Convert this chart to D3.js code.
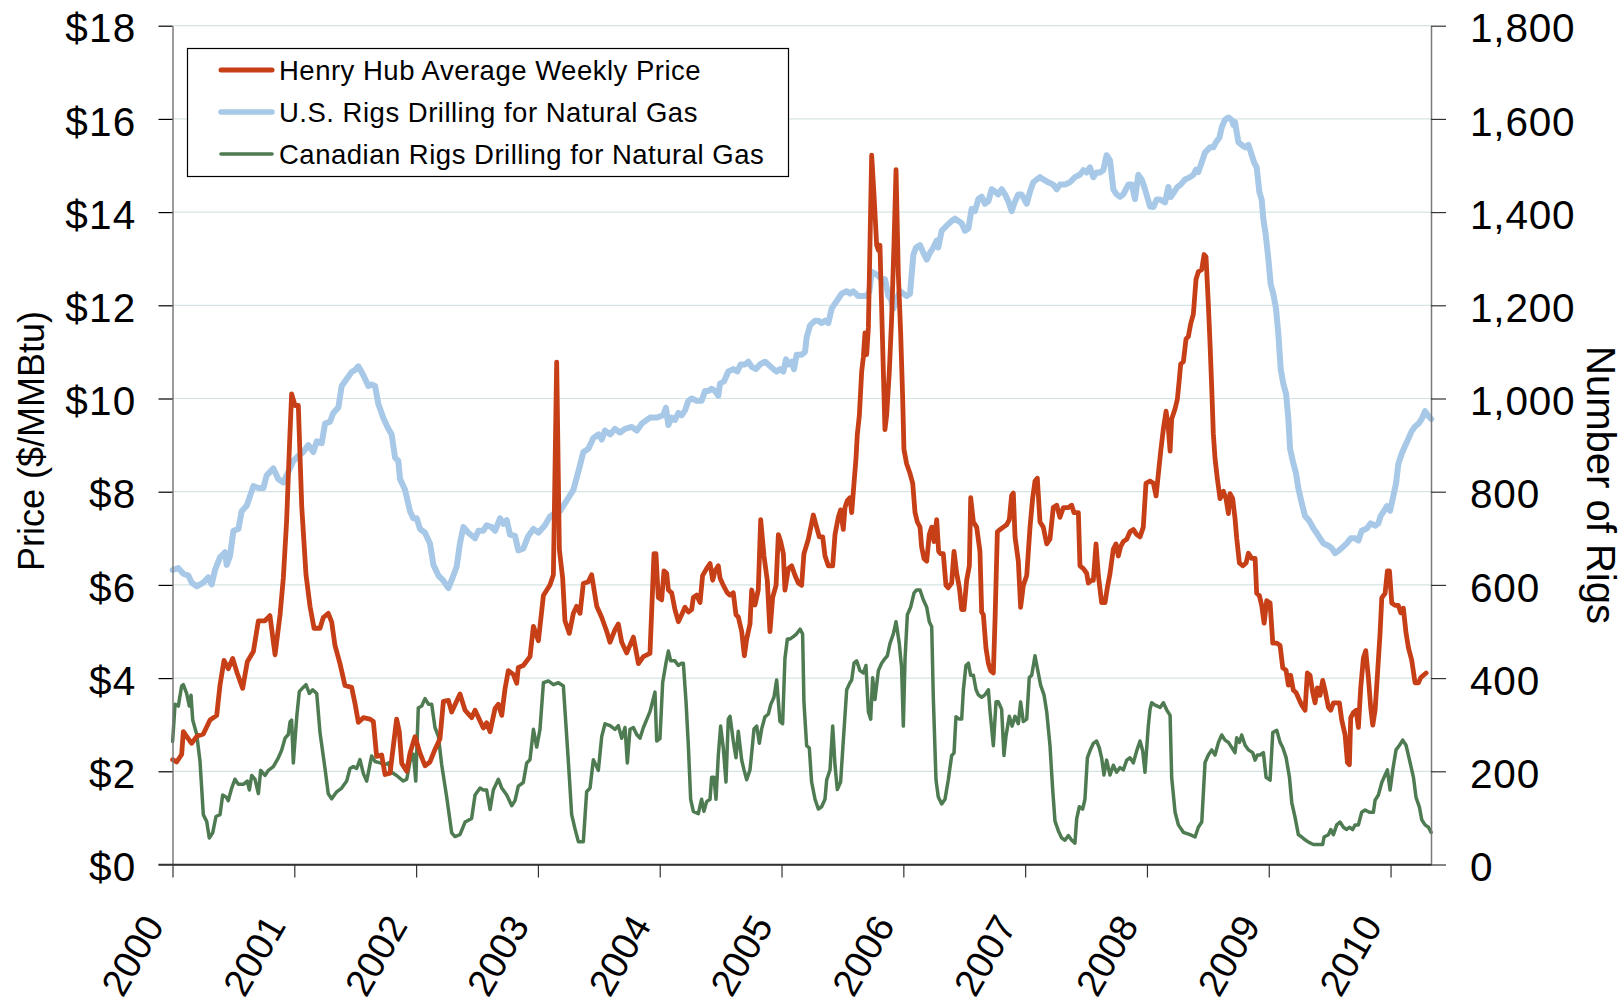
<!DOCTYPE html>
<html><head><meta charset="utf-8">
<script src="https://cdn.jsdelivr.net/npm/d3@7"></script>
<style>
body{margin:0;background:#fff}
svg{display:block}
text{font-family:"Liberation Sans",Arial,Helvetica,sans-serif;fill:#000}
</style>
</head><body>
<svg id="chart" width="1624" height="1002"></svg>
<script>
// ---------- DATA ----------
const yearTicks = [2000,2001,2002,2003,2004,2005,2006,2007,2008,2009,2010];
const priceTicks = [0,2,4,6,8,10,12,14,16,18];
const rigTicks = [0,200,400,600,800,1000,1200,1400,1600,1800];
const seriesNames = ["Henry Hub Average Weekly Price","U.S. Rigs Drilling for Natural Gas","Canadian Rigs Drilling for Natural Gas"];

// [decimal year, $/MMBtu]
const henryHub = [
[2000.001,2.25],[2000.034,2.2],[2000.075,2.36],[2000.089,2.85],[2000.116,2.75],[2000.157,2.6],[2000.199,2.75],[2000.253,2.8],[2000.308,3.1],[2000.363,3.2],
[2000.390,3.85],[2000.423,4.38],[2000.458,4.2],[2000.494,4.42],[2000.532,4.1],[2000.576,3.78],[2000.614,4.35],[2000.664,4.57],[2000.705,5.23],[2000.759,5.23],
[2000.800,5.34],[2000.842,4.5],[2000.883,5.36],[2000.910,6.15],[2000.937,7.38],[2000.959,8.9],[2000.978,10.1],[2001.006,9.85],[2001.033,9.85],[2001.061,7.68],
[2001.096,6.22],[2001.129,5.54],[2001.162,5.07],[2001.211,5.07],[2001.238,5.3],[2001.279,5.39],[2001.307,5.2],[2001.334,4.7],[2001.375,4.31],[2001.416,3.84],
[2001.471,3.8],[2001.498,3.46],[2001.526,3.05],[2001.567,3.15],[2001.622,3.12],[2001.649,3.07],[2001.676,2.32],[2001.717,2.35],[2001.745,1.93],[2001.786,1.96],
[2001.840,3.12],[2001.862,2.85],[2001.882,2.17],[2001.923,2.0],[2001.950,2.39],[2001.991,2.74],[2002.032,2.39],[2002.073,2.12],[2002.114,2.2],[2002.155,2.47],
[2002.196,2.7],[2002.224,3.5],[2002.265,3.52],[2002.292,3.27],[2002.360,3.66],[2002.402,3.31],[2002.456,3.15],[2002.484,3.31],[2002.552,2.93],[2002.579,3.04],
[2002.607,2.85],[2002.648,3.35],[2002.675,3.44],[2002.703,3.2],[2002.730,3.77],[2002.757,4.16],[2002.798,4.08],[2002.826,3.89],[2002.839,4.23],[2002.880,4.27],
[2002.935,4.46],[2002.963,5.11],[2003.004,4.8],[2003.045,5.77],[2003.099,6.0],[2003.127,6.22],[2003.154,10.78],[2003.176,6.76],[2003.203,6.15],[2003.222,5.23],
[2003.258,4.96],[2003.291,5.39],[2003.318,5.54],[2003.346,5.39],[2003.373,6.03],[2003.414,6.07],[2003.441,6.22],[2003.483,5.54],[2003.524,5.3],[2003.565,5.0],
[2003.592,4.77],[2003.633,5.04],[2003.660,5.16],[2003.688,4.77],[2003.729,4.54],[2003.784,4.88],[2003.825,4.31],[2003.866,4.46],
[2003.920,4.53],[2003.953,6.67],[2003.969,6.67],[2003.988,5.73],[2004.016,5.68],[2004.035,6.3],[2004.057,6.25],[2004.071,5.89],[2004.098,5.83],[2004.125,5.47],
[2004.153,5.21],[2004.180,5.36],[2004.207,5.52],[2004.235,5.42],[2004.262,5.47],[2004.276,5.73],[2004.303,5.78],[2004.331,5.62],[2004.352,6.2],[2004.385,6.35],
[2004.413,6.46],[2004.435,6.1],[2004.454,6.3],[2004.481,6.41],[2004.495,6.15],[2004.522,5.99],[2004.555,5.83],[2004.577,5.78],[2004.604,5.83],[2004.626,5.36],
[2004.645,5.31],[2004.673,5.0],[2004.695,4.48],[2004.714,4.84],[2004.741,5.16],[2004.755,5.89],[2004.782,5.57],[2004.809,5.89],[2004.829,7.4],[2004.856,6.62],
[2004.883,6.1],[2004.905,5.0],[2004.927,5.73],[2004.955,5.99],[2004.974,7.08],[2004.993,6.93],[2005.015,6.67],[2005.028,5.89],[2005.056,6.35],[2005.083,6.41],
[2005.111,6.2],[2005.138,6.04],[2005.165,5.99],[2005.184,6.67],[2005.220,6.98],[2005.261,7.5],[2005.288,7.24],[2005.310,7.03],[2005.338,7.03],[2005.357,6.62],
[2005.384,6.41],[2005.420,6.41],[2005.439,7.08],[2005.466,7.45],[2005.485,7.61],[2005.507,7.19],[2005.521,7.66],[2005.540,7.81],[2005.562,7.87],[2005.576,7.55],
[2005.595,8.18],[2005.611,8.7],[2005.622,9.22],[2005.639,9.64],[2005.658,10.58],[2005.672,10.89],[2005.685,11.41],[2005.699,10.94],[2005.713,11.52],[2005.726,13.29],
[2005.740,15.22],[2005.759,14.38],[2005.781,13.29],[2005.795,13.18],[2005.808,13.29],[2005.822,11.93],[2005.836,10.58],[2005.849,9.33],[2005.863,9.64],[2005.885,10.58],
[2005.904,11.72],[2005.923,13.29],[2005.940,14.91],[2005.959,12.66],[2005.978,11.41],[2005.994,10.06],[2006.005,8.91],[2006.027,8.6],[2006.055,8.39],[2006.077,8.18],
[2006.096,7.55],[2006.115,7.35],[2006.137,7.24],[2006.150,6.82],[2006.170,6.56],[2006.192,6.51],[2006.213,7.08],[2006.233,7.24],[2006.252,6.93],[2006.274,7.4],
[2006.290,6.72],[2006.306,6.67],[2006.328,6.67],[2006.350,5.99],[2006.369,5.94],[2006.397,6.04],[2006.416,6.72],[2006.438,6.25],[2006.460,5.94],[2006.479,5.47],
[2006.498,5.47],[2006.520,6.1],[2006.542,6.41],[2006.553,7.87],[2006.575,7.35],[2006.602,7.24],[2006.629,6.72],[2006.643,5.42],[2006.657,5.36],[2006.679,4.63],
[2006.698,4.32],[2006.717,4.16],[2006.739,4.11],[2006.753,5.26],[2006.772,7.14],[2006.794,7.19],[2006.821,7.24],[2006.848,7.29],[2006.870,7.4],[2006.889,7.92],
[2006.903,7.97],[2006.917,7.03],[2006.944,6.51],[2006.963,5.52],[2006.985,5.99],[2007.013,6.2],[2007.040,7.24],[2007.062,7.87],[2007.081,8.23],[2007.100,8.29],
[2007.122,7.35],[2007.149,7.24],[2007.177,6.88],[2007.204,6.98],[2007.231,7.66],[2007.259,7.71],[2007.286,7.45],[2007.314,7.66],[2007.355,7.66],[2007.382,7.71],
[2007.401,7.55],[2007.437,7.55],[2007.450,6.41],[2007.478,6.35],[2007.505,6.25],[2007.519,6.04],[2007.546,6.1],[2007.560,6.1],[2007.582,6.88],[2007.601,6.2],
[2007.628,5.62],[2007.656,5.62],[2007.675,5.94],[2007.697,6.25],[2007.724,6.77],[2007.746,6.88],[2007.765,6.62],[2007.784,6.82],[2007.806,6.93],[2007.834,6.98],
[2007.861,7.14],[2007.888,7.19],[2007.916,7.08],[2007.943,7.03],[2007.970,7.24],[2007.992,8.18],[2008.025,8.23],
[2008.053,8.18],[2008.075,7.91],[2008.094,8.39],[2008.113,8.87],[2008.135,9.35],[2008.157,9.73],[2008.176,9.35],[2008.190,8.87],[2008.203,9.56],[2008.231,9.78],
[2008.250,9.99],[2008.266,10.42],[2008.277,10.74],[2008.299,10.79],[2008.321,11.28],[2008.340,11.33],[2008.359,11.6],[2008.381,11.81],[2008.403,12.56],[2008.422,12.72],
[2008.450,12.77],[2008.469,13.09],[2008.485,13.04],[2008.504,12.02],[2008.518,11.17],[2008.532,10.21],[2008.545,9.24],[2008.559,8.71],[2008.578,8.28],[2008.600,7.85],
[2008.628,8.01],[2008.649,7.85],[2008.669,7.53],[2008.682,7.96],[2008.704,7.85],[2008.723,7.43],[2008.737,7.0],[2008.759,6.47],[2008.786,6.41],[2008.814,6.47],
[2008.833,6.68],[2008.860,6.57],[2008.888,6.57],[2008.901,5.82],[2008.923,5.77],[2008.942,5.56],[2008.962,5.18],[2008.983,5.66],[2009.011,5.61],[2009.033,4.75],
[2009.066,4.75],[2009.093,4.7],[2009.115,4.22],[2009.142,4.17],[2009.161,3.85],[2009.180,4.06],[2009.202,3.74],[2009.224,3.69],[2009.243,3.58],[2009.271,3.42],
[2009.298,3.31],[2009.317,4.11],[2009.339,4.06],[2009.361,3.69],[2009.380,3.47],[2009.399,3.79],[2009.421,3.63],[2009.443,3.95],[2009.462,3.74],[2009.490,3.37],
[2009.509,3.31],[2009.531,3.47],[2009.558,3.47],[2009.580,3.47],[2009.599,3.1],[2009.627,2.78],[2009.646,2.19],[2009.662,2.14],[2009.673,3.15],[2009.695,3.26],
[2009.717,3.31],[2009.736,2.94],[2009.755,3.79],[2009.777,4.43],[2009.796,4.59],[2009.818,4.01],[2009.837,3.37],[2009.854,2.99],[2009.873,3.31],[2009.892,4.06],
[2009.914,4.97],[2009.928,5.72],[2009.955,5.82],[2009.974,6.3],[2009.991,6.3],[2010.010,5.61],[2010.037,5.56],[2010.064,5.56],[2010.084,5.4],[2010.105,5.5],
[2010.127,4.97],[2010.147,4.65],[2010.174,4.38],[2010.201,3.9],[2010.229,3.9],[2010.248,4.01],[2010.270,4.06],[2010.292,4.11]
];

// [decimal year, number of rigs]
const usRigs = [
[2000.001,632],[2000.048,636],[2000.089,624],[2000.130,620],[2000.157,605],[2000.199,597],[2000.253,605],[2000.294,616],[2000.322,601],[2000.349,632],
[2000.390,659],[2000.431,670],[2000.445,643],[2000.472,662],[2000.500,716],[2000.541,720],[2000.568,758],[2000.609,770],[2000.664,812],[2000.705,808],
[2000.746,808],[2000.773,835],[2000.828,850],[2000.869,827],[2000.910,820],[2000.951,843],[2000.992,866],[2001.033,877],[2001.074,885],[2001.115,900],
[2001.156,885],[2001.184,908],[2001.225,904],[2001.252,946],[2001.293,950],[2001.320,969],[2001.362,981],[2001.389,1027],[2001.430,1042],[2001.471,1057],
[2001.498,1061],[2001.526,1069],[2001.567,1050],[2001.608,1027],[2001.635,1030],[2001.663,1027],[2001.690,988],[2001.731,958],[2001.772,935],[2001.799,923],
[2001.827,873],[2001.854,866],[2001.868,827],[2001.909,804],[2001.950,758],[2001.977,743],[2002.005,743],[2002.032,720],[2002.073,712],[2002.114,689],
[2002.142,643],[2002.183,620],[2002.224,609],[2002.265,593],[2002.306,620],[2002.333,639],[2002.360,689],[2002.388,724],[2002.429,712],[2002.484,700],
[2002.511,716],[2002.552,716],[2002.579,728],[2002.620,724],[2002.648,716],[2002.689,743],[2002.716,731],[2002.744,739],[2002.771,708],[2002.812,705],
[2002.839,674],[2002.880,678],[2002.921,705],[2002.963,720],[2003.004,712],[2003.031,720],[2003.058,728],[2003.099,747],[2003.140,754],[2003.181,758],
[2003.236,781],[2003.291,804],[2003.332,843],[2003.373,885],[2003.414,892],[2003.455,915],[2003.496,923],[2003.524,912],[2003.551,931],[2003.592,923],
[2003.633,935],[2003.674,927],[2003.715,935],[2003.770,939],[2003.811,931],[2003.852,946],
[2003.920,959],[2003.975,959],[2004.029,964],[2004.051,980],[2004.071,943],[2004.098,959],[2004.125,954],[2004.153,969],[2004.180,964],[2004.207,974],
[2004.235,995],[2004.262,1000],[2004.303,995],[2004.344,995],[2004.372,1016],[2004.399,1016],[2004.426,1021],[2004.454,1016],[2004.481,1006],[2004.495,1032],
[2004.528,1037],[2004.563,1058],[2004.604,1063],[2004.637,1058],[2004.664,1073],[2004.700,1073],[2004.727,1079],[2004.755,1068],[2004.790,1063],[2004.823,1073],
[2004.864,1079],[2004.892,1073],[2004.933,1063],[2004.960,1058],[2004.987,1063],[2005.015,1058],[2005.037,1084],[2005.056,1073],[2005.083,1079],[2005.102,1063],
[2005.124,1094],[2005.165,1094],[2005.193,1100],[2005.206,1131],[2005.234,1157],[2005.275,1167],[2005.302,1167],[2005.329,1162],[2005.357,1167],[2005.384,1162],
[2005.412,1193],[2005.439,1204],[2005.466,1214],[2005.494,1225],[2005.535,1230],[2005.562,1225],[2005.589,1230],[2005.630,1220],[2005.672,1220],[2005.699,1220],
[2005.721,1230],[2005.740,1272],[2005.781,1266],[2005.822,1256],[2005.849,1256],[2005.877,1220],[2005.896,1214],[2005.918,1193],[2005.945,1214],[2005.973,1230],
[2006.000,1225],[2006.027,1220],[2006.055,1225],[2006.082,1308],[2006.104,1324],[2006.137,1329],[2006.164,1313],[2006.192,1298],[2006.219,1313],[2006.246,1324],
[2006.274,1339],[2006.287,1324],[2006.315,1360],[2006.356,1371],[2006.397,1381],[2006.424,1386],[2006.452,1381],[2006.479,1376],[2006.506,1360],[2006.534,1365],
[2006.561,1407],[2006.588,1402],[2006.616,1428],[2006.643,1433],[2006.670,1418],[2006.698,1423],[2006.725,1449],[2006.753,1444],[2006.780,1438],[2006.807,1449],
[2006.835,1438],[2006.862,1423],[2006.889,1402],[2006.917,1423],[2006.944,1438],[2006.971,1438],[2007.013,1418],[2007.040,1444],[2007.067,1464],[2007.095,1470],
[2007.122,1475],[2007.149,1470],[2007.190,1464],[2007.231,1459],[2007.259,1449],[2007.286,1459],[2007.327,1459],[2007.368,1464],[2007.409,1475],[2007.450,1480],
[2007.478,1490],[2007.505,1485],[2007.532,1496],[2007.560,1475],[2007.587,1485],[2007.615,1485],[2007.642,1490],[2007.669,1522],[2007.697,1511],[2007.724,1449],
[2007.751,1438],[2007.779,1433],[2007.806,1438],[2007.847,1459],[2007.875,1459],[2007.902,1428],[2007.929,1480],[2007.957,1470],[2007.984,1449],[2008.025,1412],
[2008.053,1411],[2008.080,1427],[2008.108,1427],[2008.149,1421],[2008.176,1454],[2008.195,1432],[2008.223,1443],[2008.250,1454],[2008.277,1459],[2008.313,1470],
[2008.354,1475],[2008.381,1480],[2008.403,1491],[2008.422,1486],[2008.450,1507],[2008.477,1528],[2008.518,1539],[2008.545,1539],[2008.567,1550],[2008.595,1560],
[2008.614,1582],[2008.641,1598],[2008.669,1603],[2008.696,1598],[2008.710,1587],[2008.723,1593],[2008.737,1571],[2008.751,1550],[2008.778,1544],[2008.806,1539],
[2008.833,1544],[2008.860,1523],[2008.879,1507],[2008.901,1496],[2008.923,1443],[2008.942,1427],[2008.956,1384],[2008.975,1352],[2008.997,1299],[2009.016,1245],
[2009.038,1224],[2009.060,1192],[2009.079,1138],[2009.098,1063],[2009.120,1031],[2009.142,1010],[2009.161,956],[2009.175,892],[2009.197,866],[2009.224,839],
[2009.243,807],[2009.271,775],[2009.298,748],[2009.334,737],[2009.367,721],[2009.394,711],[2009.421,700],[2009.449,689],[2009.490,684],[2009.517,679],
[2009.544,668],[2009.572,673],[2009.599,679],[2009.640,689],[2009.673,700],[2009.709,700],[2009.736,695],[2009.763,716],[2009.805,721],[2009.837,732],
[2009.873,727],[2009.900,732],[2009.919,748],[2009.947,759],[2009.969,769],[2009.996,759],[2010.018,785],[2010.045,818],[2010.064,860],[2010.092,882],
[2010.119,898],[2010.147,914],[2010.174,930],[2010.201,940],[2010.229,946],[2010.256,956],[2010.283,973],[2010.311,962],[2010.333,956]
];

// [decimal year, number of rigs]
const canadaRigs = [
[2000.001,264],[2000.021,344],[2000.048,340],[2000.075,383],[2000.089,386],[2000.116,367],[2000.138,340],[2000.152,363],[2000.166,310],[2000.199,279],
[2000.226,221],[2000.253,107],[2000.281,92],[2000.302,57],[2000.330,68],[2000.357,103],[2000.390,107],[2000.412,149],[2000.439,145],[2000.458,137],
[2000.486,164],[2000.513,183],[2000.541,172],[2000.582,172],[2000.614,179],[2000.631,160],[2000.650,191],[2000.677,183],[2000.705,152],[2000.724,202],
[2000.759,191],[2000.787,202],[2000.828,210],[2000.869,229],[2000.896,245],[2000.924,271],[2000.951,279],[2000.965,306],[2000.978,310],[2000.992,218],
[2001.020,317],[2001.041,371],[2001.069,379],[2001.096,386],[2001.123,367],[2001.151,375],[2001.184,367],[2001.211,283],[2001.252,206],[2001.279,152],
[2001.307,141],[2001.348,156],[2001.389,164],[2001.430,179],[2001.457,206],[2001.485,210],[2001.512,206],[2001.539,225],[2001.567,195],[2001.594,179],
[2001.635,233],[2001.663,221],[2001.704,218],[2001.745,214],[2001.772,218],[2001.799,198],[2001.840,191],[2001.895,179],[2001.923,183],[2001.950,221],
[2001.977,237],[2001.997,179],[2002.018,336],[2002.046,340],[2002.073,356],[2002.101,344],[2002.128,344],[2002.155,294],[2002.183,275],[2002.210,214],
[2002.251,145],[2002.292,68],[2002.319,60],[2002.360,64],[2002.402,91],[2002.429,95],[2002.456,99],[2002.484,149],[2002.525,164],[2002.552,160],
[2002.579,160],[2002.607,118],[2002.634,160],[2002.675,183],[2002.703,164],[2002.744,149],[2002.785,126],[2002.812,137],[2002.839,168],[2002.880,176],
[2002.908,218],[2002.935,225],[2002.963,290],[2002.990,252],[2003.017,290],[2003.045,390],[2003.086,394],[2003.127,386],[2003.168,390],[2003.209,383],
[2003.250,221],[2003.277,107],[2003.305,76],[2003.332,49],[2003.373,49],[2003.400,156],[2003.428,164],[2003.455,225],[2003.496,202],[2003.524,275],
[2003.551,302],[2003.592,298],[2003.633,290],[2003.660,298],[2003.688,271],[2003.715,294],[2003.734,218],[2003.756,290],[2003.784,294],[2003.811,279],
[2003.838,271],[2003.866,294],
[2003.920,328],[2003.961,370],[2003.975,265],[2004.002,270],[2004.024,390],[2004.051,432],[2004.071,458],[2004.090,437],[2004.125,437],[2004.153,427],
[2004.180,432],[2004.194,432],[2004.216,349],[2004.235,255],[2004.254,140],[2004.276,114],[2004.317,109],[2004.344,140],[2004.363,114],[2004.385,135],
[2004.413,140],[2004.426,187],[2004.445,187],[2004.462,140],[2004.481,234],[2004.500,297],[2004.522,250],[2004.544,177],[2004.563,312],[2004.577,318],
[2004.604,265],[2004.626,229],[2004.645,286],[2004.673,224],[2004.692,203],[2004.714,182],[2004.741,203],[2004.755,239],[2004.774,291],[2004.796,297],
[2004.818,260],[2004.837,291],[2004.864,317],[2004.892,323],[2004.911,343],[2004.938,359],[2004.960,396],[2004.987,307],[2005.009,302],[2005.028,442],
[2005.048,484],[2005.069,484],[2005.097,489],[2005.124,495],[2005.152,505],[2005.173,495],[2005.184,349],[2005.206,255],[2005.228,250],[2005.247,177],
[2005.275,140],[2005.302,119],[2005.329,124],[2005.357,140],[2005.371,182],[2005.398,203],[2005.420,297],[2005.439,213],[2005.458,161],[2005.485,177],
[2005.507,265],[2005.535,375],[2005.562,390],[2005.576,396],[2005.595,432],[2005.617,437],[2005.644,416],[2005.672,411],[2005.693,427],[2005.713,328],
[2005.732,312],[2005.748,401],[2005.767,354],[2005.795,416],[2005.822,432],[2005.849,442],[2005.869,448],[2005.890,474],[2005.918,495],[2005.940,521],
[2005.967,474],[2005.986,422],[2006.000,297],[2006.014,442],[2006.033,536],[2006.060,552],[2006.088,583],[2006.109,589],[2006.137,589],[2006.164,568],
[2006.192,552],[2006.213,521],[2006.233,510],[2006.246,359],[2006.268,182],[2006.287,145],[2006.315,130],[2006.342,140],[2006.369,182],[2006.397,234],
[2006.416,239],[2006.432,317],[2006.460,312],[2006.479,312],[2006.493,375],[2006.514,427],[2006.534,432],[2006.553,406],[2006.575,406],[2006.597,375],
[2006.616,364],[2006.643,359],[2006.670,364],[2006.698,375],[2006.712,328],[2006.739,255],[2006.761,349],[2006.780,349],[2006.807,333],[2006.826,234],
[2006.843,276],[2006.870,318],[2006.893,297],[2006.917,318],[2006.944,302],[2006.963,349],[2006.985,307],[2007.013,312],[2007.034,401],[2007.054,406],
[2007.081,448],[2007.108,411],[2007.127,385],[2007.155,364],[2007.177,328],[2007.204,255],[2007.226,161],[2007.245,93],[2007.273,72],[2007.300,57],
[2007.327,52],[2007.355,62],[2007.382,52],[2007.409,46],[2007.423,98],[2007.445,124],[2007.472,119],[2007.491,140],[2007.511,229],[2007.532,244],
[2007.560,260],[2007.587,265],[2007.609,250],[2007.628,229],[2007.647,192],[2007.669,224],[2007.697,192],[2007.724,213],[2007.751,198],[2007.779,208],
[2007.806,203],[2007.834,224],[2007.861,229],[2007.888,218],[2007.916,244],[2007.943,265],[2007.965,244],[2007.984,198],[2008.011,297],[2008.025,333],
[2008.039,347],[2008.067,342],[2008.108,337],[2008.135,347],[2008.162,332],[2008.190,320],[2008.203,187],[2008.231,112],[2008.258,85],[2008.299,69],
[2008.354,64],[2008.395,59],[2008.422,80],[2008.450,91],[2008.477,219],[2008.504,235],[2008.532,246],[2008.559,235],[2008.587,262],[2008.614,278],
[2008.641,267],[2008.669,262],[2008.696,251],[2008.723,240],[2008.737,272],[2008.759,262],[2008.778,278],[2008.806,256],[2008.833,246],[2008.868,240],
[2008.888,224],[2008.907,235],[2008.929,235],[2008.956,240],[2008.978,187],[2009.011,181],[2009.033,283],[2009.066,288],[2009.093,262],[2009.115,251],
[2009.142,230],[2009.170,187],[2009.189,133],[2009.216,101],[2009.243,64],[2009.271,59],[2009.298,53],[2009.326,48],[2009.367,43],[2009.408,43],
[2009.443,43],[2009.454,59],[2009.490,64],[2009.509,75],[2009.531,64],[2009.558,85],[2009.585,91],[2009.613,80],[2009.640,75],[2009.662,80],
[2009.689,75],[2009.709,85],[2009.736,85],[2009.763,112],[2009.791,117],[2009.826,112],[2009.859,112],[2009.873,138],[2009.900,149],[2009.928,176],
[2009.955,192],[2009.974,203],[2009.996,160],[2010.018,203],[2010.045,246],[2010.073,256],[2010.100,267],[2010.127,256],[2010.160,219],[2010.188,187],
[2010.209,144],[2010.237,123],[2010.256,96],[2010.283,85],[2010.311,80],[2010.333,69]
];

// ---------- DRAWING ----------
const colors = {price:"#C63F17", us:"#A7C8E6", ca:"#4E7B51"};
const svg = d3.select("#chart");
const m = {left:172.5, right:1431, top:25.7, bottom:864.5};

const x = d3.scaleLinear().domain([2000, 2010.332]).range([m.left, m.right]);
const yP = d3.scaleLinear().domain([0, 18]).range([m.bottom, m.top]);
const yR = d3.scaleLinear().domain([0, 1800]).range([m.bottom, m.top]);

// gridlines
svg.append("g").selectAll("line")
  .data(priceTicks.filter(d => d > 0))
  .join("line")
  .attr("x1", m.left).attr("x2", m.right)
  .attr("y1", d => yP(d)).attr("y2", d => yP(d))
  .attr("stroke", "#d4e3e3").attr("stroke-width", 1.2);

// series lines
const lineP = d3.line().x(d => x(d[0])).y(d => yP(d[1]));
const lineR = d3.line().x(d => x(d[0])).y(d => yR(d[1]));
const plot = svg.append("g").attr("fill", "none").attr("stroke-linejoin", "round").attr("stroke-linecap", "round");
plot.append("path").datum(usRigs).attr("d", lineR).attr("stroke", colors.us).attr("stroke-width", 6);
plot.append("path").datum(canadaRigs).attr("d", lineR).attr("stroke", colors.ca).attr("stroke-width", 3.5);
plot.append("path").datum(henryHub).attr("d", lineP).attr("stroke", colors.price).attr("stroke-width", 4.8);

const fontFam = "'Liberation Sans',Arial,sans-serif";

// left axis
const axL = svg.append("g").attr("transform", `translate(${m.left},0)`)
  .call(d3.axisLeft(yP).tickValues(priceTicks).tickSize(14).tickSizeOuter(0).tickPadding(22).tickFormat(d => "$" + d));
axL.select(".domain").attr("stroke", "#7a7a7a").attr("stroke-width", 1.5);
axL.selectAll(".tick line").attr("stroke", "#000").attr("stroke-width", 1.2);
axL.selectAll(".tick text").attr("font-size", 40.5).attr("dy", "0.4em")
  .style("font-family", fontFam).style("letter-spacing", "1.2px");

// right axis
const axR = svg.append("g").attr("transform", `translate(${m.right},0)`)
  .call(d3.axisRight(yR).tickValues(rigTicks).tickSize(15).tickSizeOuter(0).tickPadding(24).tickFormat(d3.format(",")));
axR.select(".domain").attr("stroke", "#7a7a7a").attr("stroke-width", 1.5);
axR.selectAll(".tick line").attr("stroke", "#333").attr("stroke-width", 1.2);
axR.selectAll(".tick text").attr("font-size", 40.5).attr("dy", "0.4em")
  .style("font-family", fontFam).style("letter-spacing", "0.8px");

// bottom axis
const axB = svg.append("g").attr("transform", `translate(0,${m.bottom})`)
  .call(d3.axisBottom(x).tickValues(yearTicks).tickSize(13).tickSizeOuter(0).tickFormat(d => String(d)));
axB.select(".domain").attr("stroke", "#333").attr("stroke-width", 1.5);
axB.selectAll(".tick line").attr("stroke", "#333").attr("stroke-width", 1.2);
axB.selectAll(".tick text")
  .attr("font-size", 38).attr("x", 0).attr("y", 0).attr("dy", 0)
  .attr("text-anchor", "end")
  .attr("transform", "translate(-8,61) rotate(-60)")
  .style("font-family", fontFam);
// baseline continues left to meet the $0 tick
svg.append("line").attr("x1", m.left - 14).attr("x2", m.right).attr("y1", m.bottom).attr("y2", m.bottom)
  .attr("stroke", "#333").attr("stroke-width", 1.5);

// axis titles
svg.append("text").attr("transform", `translate(44,441) rotate(-90)`)
  .attr("text-anchor", "middle").attr("font-size", 36).text("Price ($/MMBtu)");
svg.append("text").attr("transform", `translate(1587,485) rotate(90)`)
  .attr("text-anchor", "middle").attr("font-size", 40).text("Number of Rigs");

// legend
const lg = svg.append("g");
lg.append("rect").attr("x", 187.5).attr("y", 48.5).attr("width", 601).attr("height", 128)
  .attr("fill", "#fff").attr("stroke", "#000").attr("stroke-width", 1.2);
const legendItems = [
  {name: seriesNames[0], color: colors.price, w: 5},
  {name: seriesNames[1], color: colors.us, w: 5.5},
  {name: seriesNames[2], color: colors.ca, w: 3.6}
];
const lgRows = [70, 112, 154];
legendItems.forEach((it, i) => {
  lg.append("line").attr("x1", 221).attr("x2", 272).attr("y1", lgRows[i]).attr("y2", lgRows[i])
    .attr("stroke", it.color).attr("stroke-width", it.w).attr("stroke-linecap", "round");
  lg.append("text").attr("x", 279).attr("y", lgRows[i]).attr("dy", "0.36em")
    .attr("font-size", 27.5).style("letter-spacing", "0.5px").text(it.name);
});
</script>
</body></html>
